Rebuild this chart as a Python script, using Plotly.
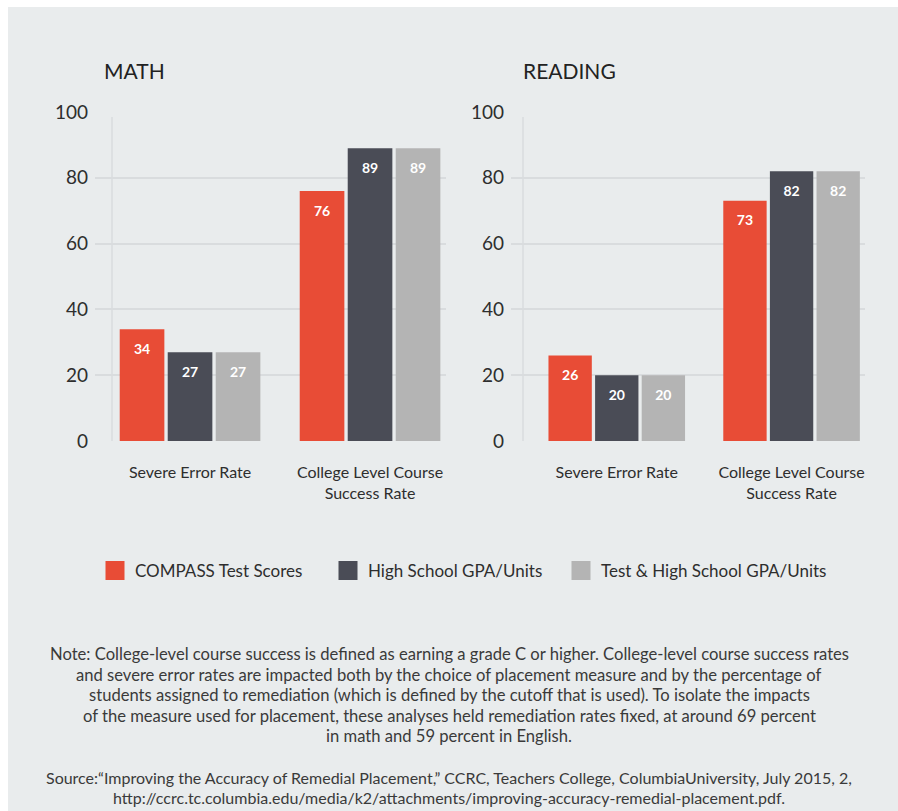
import plotly.graph_objects as go

W, H = 898, 811

categories = ["Severe Error Rate", "College Level Course<br>Success Rate"]
series_names = ["COMPASS Test Scores", "High School GPA/Units", "Test & High School GPA/Units"]
math_values = [[34, 76], [27, 89], [27, 89]]
reading_values = [[26, 73], [20, 82], [20, 82]]
panel_titles = ["MATH", "READING"]
y_ticks = [0, 20, 40, 60, 80, 100]
note_lines = [
    "Note: College-level course success is defined as earning a grade C or higher. College-level course success rates",
    "and severe error rates are impacted both by the choice of placement measure and by the percentage of",
    "students assigned to remediation (which is defined by the cutoff that is used). To isolate the impacts",
    "of the measure used for placement, these analyses held remediation rates fixed, at around 69 percent",
    "in math and 59 percent in English.",
]
source_lines = [
    "Source:\u201cImproving the Accuracy of Remedial Placement,\u201d CCRC, Teachers College, ColumbiaUniversity, July 2015, 2,",
    "http://ccrc.tc.columbia.edu/media/k2/attachments/improving-accuracy-remedial-placement.pdf.",
]

colors = ["#e84c36", "#4a4c56", "#b4b4b4"]
BG = "#e9eced"
GRID = "#d9dcde"
FONT = "Lato"
TXT = "#2e2e2e"

fig = go.Figure()

panels = [("x", "y", math_values), ("x2", "y2", reading_values)]
for p, (xa, ya, vals) in enumerate(panels):
    for i, name in enumerate(series_names):
        fig.add_trace(go.Bar(
            x=categories, y=vals[i], name=name, xaxis=xa, yaxis=ya,
            marker=dict(color=colors[i], line=dict(width=0)),
            offsetgroup=str(i), showlegend=False,
            hoverinfo="skip",
        ))
    for i, name in enumerate(series_names):
        fig.add_trace(go.Scatter(
            x=categories, y=vals[i], xaxis=xa, yaxis=ya,
            mode="markers+text", text=[str(v) for v in vals[i]],
            textposition="bottom center",
            textfont=dict(family=FONT, size=14, color="white", weight="bold"),
            marker=dict(size=21, opacity=0),
            offsetgroup=str(i), showlegend=False, hoverinfo="skip",
        ))

def px_x(v):
    return v / W

def px_y(v):
    return 1 - v / H

# legend entries (square swatches) on a hidden helper axis, one legend each
legend_ids = ["legend", "legend2", "legend3"]
legend_x = [95, 328, 561]
for i, name in enumerate(series_names):
    fig.add_trace(go.Scatter(
        x=[None], y=[None], xaxis="x3", yaxis="y3", name=name, mode="markers",
        marker=dict(symbol="square", size=16, color=colors[i], line=dict(color=colors[i], width=3)),
        showlegend=True, hoverinfo="skip", legend=legend_ids[i],
    ))

axis_common = dict(showline=False, zeroline=False, ticks="", fixedrange=True, automargin=False)

legend_common = dict(orientation="h", yanchor="middle", xanchor="left",
                     font=dict(size=17, color=TXT), bgcolor="rgba(0,0,0,0)",
                     itemclick=False, itemdoubleclick=False)

fig.update_layout(
    width=W, height=H, autosize=False,
    margin=dict(l=0, r=0, t=0, b=0, pad=0, autoexpand=False),
    paper_bgcolor=BG, plot_bgcolor="rgba(0,0,0,0)",
    barmode="group", bargap=0.2, bargroupgap=0.07,
    scattermode="group", scattergap=0.2,
    font=dict(family=FONT, color=TXT),
    xaxis=dict(domain=[px_x(95), px_x(446)], range=[-0.528, 1.422], type="category",
               showgrid=False, tickfont=dict(size=16, color=TXT), ticklabelstandoff=20, anchor="y",
               **axis_common),
    yaxis=dict(domain=[px_y(441), px_y(112)], range=[0, 100], tickvals=y_ticks,
               showgrid=True, gridcolor=GRID, gridwidth=1.5,
               tickfont=dict(size=19, color=TXT), ticklabelstandoff=6, anchor="x",
               **axis_common),
    xaxis2=dict(domain=[px_x(511), px_x(865)], range=[-0.605, 1.42], type="category",
                showgrid=False, tickfont=dict(size=16, color=TXT), ticklabelstandoff=20, anchor="y2",
                **axis_common),
    yaxis2=dict(domain=[px_y(441), px_y(112)], range=[0, 100], tickvals=y_ticks,
                showgrid=True, gridcolor=GRID, gridwidth=1.5,
                tickfont=dict(size=19, color=TXT), ticklabelstandoff=6, anchor="x2",
                **axis_common),
    xaxis3=dict(domain=[0, 0.01], visible=False, anchor="y3", fixedrange=True),
    yaxis3=dict(domain=[0, 0.01], visible=False, anchor="x3", fixedrange=True),
    legend=dict(x=px_x(legend_x[0]), y=px_y(571), **legend_common),
    legend2=dict(x=px_x(legend_x[1]), y=px_y(571), **legend_common),
    legend3=dict(x=px_x(legend_x[2]), y=px_y(571), **legend_common),
    showlegend=True,
)

# white frame along the top and left edges
fig.add_shape(type="rect", xref="paper", yref="paper", x0=0, x1=px_x(8), y0=0, y1=1,
              fillcolor="white", line=dict(width=0), layer="below")
fig.add_shape(type="rect", xref="paper", yref="paper", x0=0, x1=1, y0=px_y(7), y1=1,
              fillcolor="white", line=dict(width=0), layer="below")
# thin vertical axis lines
for xd, yd, xf in [("x domain", "y domain", 17 / 351), ("x2 domain", "y2 domain", 12 / 354)]:
    fig.add_shape(type="line", xref=xd, yref=yd, x0=xf, x1=xf, y0=0, y1=0.985,
                  line=dict(color=GRID, width=1.5), layer="below")

# panel titles
for t, xp in zip(panel_titles, [102, 521]):
    fig.add_annotation(text=t, x=px_x(xp), y=px_y(70), xref="paper", yref="paper",
                       xanchor="left", yanchor="middle", showarrow=False,
                       font=dict(size=21, color="#222222", family=FONT))

for k, line in enumerate(note_lines):
    fig.add_annotation(text=line, x=px_x(449), y=px_y(654 + k * 20.5), xref="paper", yref="paper",
                       xanchor="center", yanchor="middle", showarrow=False,
                       font=dict(size=16.6, color="#3a3a3a", family=FONT))
for k, line in enumerate(source_lines):
    fig.add_annotation(text=line, x=px_x(449), y=px_y(777 + k * 20.5), xref="paper", yref="paper",
                       xanchor="center", yanchor="middle", showarrow=False,
                       font=dict(size=16, color="#3a3a3a", family=FONT))

fig.write_html("out.html")
